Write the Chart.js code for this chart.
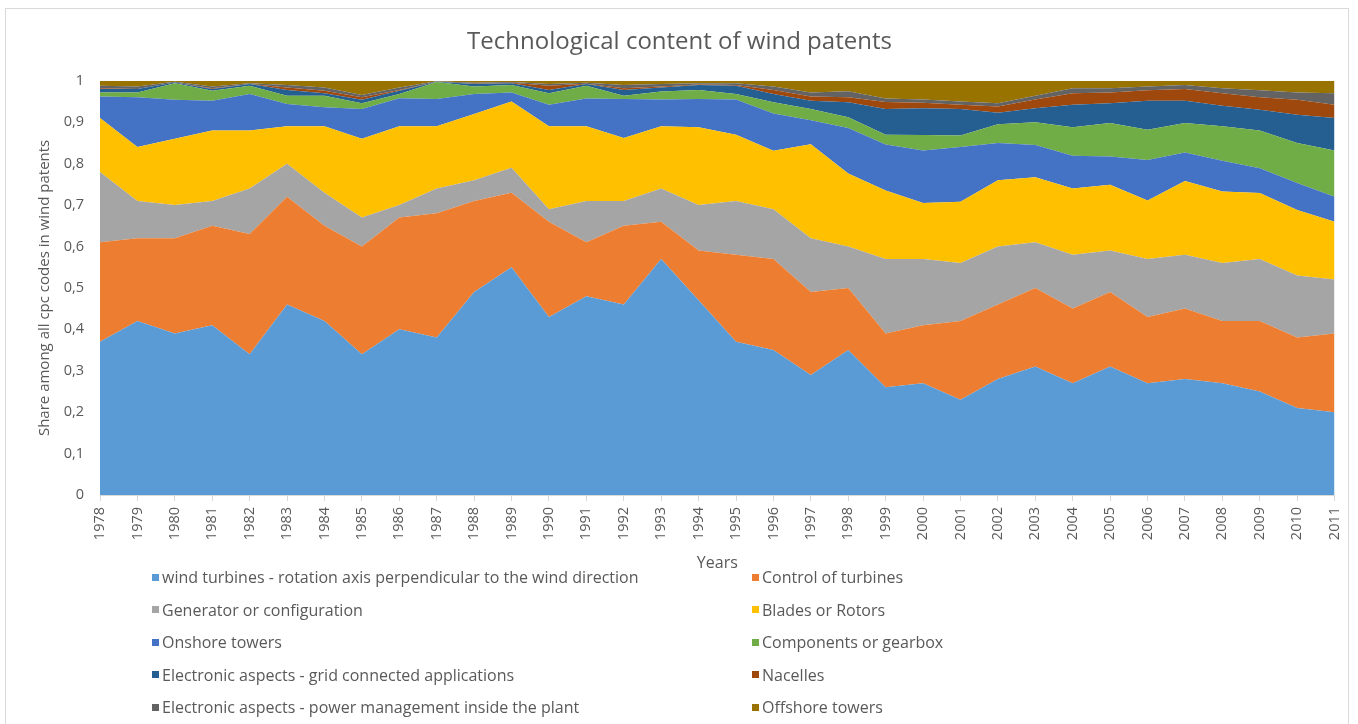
<!DOCTYPE html>
<html>
<head>
<meta charset="utf-8">
<title>Technological content of wind patents</title>
<script src="https://cdn.jsdelivr.net/npm/chart.js@4.4.1/dist/chart.umd.min.js"></script>
<style>
    body { margin: 0; background: #fff; font-family: "Open Sans", sans-serif; }
    #wrap { position: relative; width: 1358px; height: 724px; overflow: hidden; }
    #frame { position: absolute; left: 5px; top: 8px; width: 1344px; height: 760px; border: 1px solid #d9d9d9; box-sizing: border-box; }
    #legend { position: absolute; left: 152px; top: 561px; display: grid; grid-template-columns: 600px 600px; grid-auto-rows: 32.5px; }
    .item { display: flex; align-items: center; font-size: 16px; color: #595959; white-space: nowrap; }
    .box { width: 7px; height: 7px; margin-right: 3px; }
</style>
</head>
<body>
<div id="wrap">
    <div id="frame"></div>
    <canvas id="chart"></canvas>
    <div id="legend"></div>
</div>
<script>
// years on the x axis
const years = ['1978','1979','1980','1981','1982','1983','1984','1985','1986','1987','1988','1989',
    '1990','1991','1992','1993','1994','1995','1996','1997','1998','1999','2000','2001','2002',
    '2003','2004','2005','2006','2007','2008','2009','2010','2011'];

// share of each technology per year
const windTurbines = [0.37,0.42,0.39,0.41,0.34,0.46,0.42,0.34,0.40,0.38,0.49,0.55,
    0.43,0.48,0.46,0.57,0.47,0.37,0.35,0.29,0.35,0.26,0.27,0.23,0.28,
    0.31,0.27,0.31,0.27,0.28,0.27,0.25,0.21,0.20];
const controlTurbines = [0.24,0.20,0.23,0.24,0.29,0.26,0.23,0.26,0.27,0.30,0.22,0.18,
    0.23,0.13,0.19,0.09,0.12,0.21,0.22,0.20,0.15,0.13,0.14,0.19,0.18,
    0.19,0.18,0.18,0.16,0.17,0.15,0.17,0.17,0.19];
const generator = [0.17,0.09,0.08,0.06,0.11,0.08,0.08,0.07,0.03,0.06,0.05,0.06,
    0.03,0.10,0.06,0.08,0.11,0.13,0.12,0.13,0.10,0.18,0.16,0.14,0.14,
    0.11,0.13,0.10,0.14,0.13,0.14,0.15,0.15,0.13];
const blades = [0.13,0.13,0.16,0.17,0.14,0.09,0.16,0.19,0.19,0.15,0.16,0.16,
    0.20,0.18,0.152,0.15,0.188,0.16,0.141,0.227,0.176,0.165,0.135,0.148,0.16,
    0.157,0.16,0.159,0.141,0.178,0.173,0.159,0.158,0.14];
const onshore = [0.052,0.12,0.094,0.072,0.088,0.054,0.046,0.072,0.068,0.066,0.048,0.022,
    0.052,0.067,0.094,0.065,0.068,0.085,0.09,0.058,0.11,0.111,0.127,0.132,0.09,
    0.078,0.079,0.068,0.098,0.069,0.074,0.06,0.065,0.06];
const components = [0.010,0.012,0.040,0.024,0.020,0.020,0.028,0.014,0.010,0.041,0.018,0.018,
    0.028,0.031,0.008,0.019,0.022,0.013,0.027,0.027,0.026,0.024,0.037,0.028,0.045,
    0.055,0.069,0.081,0.073,0.071,0.083,0.091,0.097,0.112];
const gridApps = [0.008,0.008,0.002,0.004,0.004,0.014,0.006,0.008,0.008,0.001,0.006,0.004,
    0.008,0.004,0.014,0.010,0.012,0.020,0.020,0.020,0.036,0.062,0.065,0.064,0.028,
    0.034,0.054,0.048,0.070,0.054,0.050,0.050,0.068,0.078];
const nacelles = [0.002,0,0,0.002,0,0.006,0.006,0.006,0.002,0,0.001,0.001,
    0.010,0.001,0.004,0.002,0.001,0.002,0.010,0.010,0.012,0.017,0.013,0.010,0.015,
    0.021,0.028,0.026,0.025,0.028,0.030,0.030,0.036,0.032];
const powerMgmt = [0.006,0.006,0.002,0.004,0.002,0.006,0.008,0.006,0.006,0.001,0.002,0.002,
    0.004,0.002,0.008,0.006,0.003,0.004,0.008,0.010,0.015,0.008,0.008,0.008,0.008,
    0.009,0.012,0.010,0.009,0.010,0.012,0.017,0.018,0.028];
const offshore = [0.012,0.014,0.002,0.014,0.006,0.010,0.016,0.034,0.016,0.001,0.005,0.003,
    0.008,0.005,0.010,0.008,0.006,0.006,0.014,0.028,0.025,0.043,0.045,0.050,0.054,
    0.036,0.018,0.018,0.014,0.010,0.018,0.023,0.028,0.030];

const seriesNames = [
    'wind turbines - rotation axis perpendicular to the wind direction',
    'Control of turbines',
    'Generator or configuration',
    'Blades or Rotors',
    'Onshore towers',
    'Components or gearbox',
    'Electronic aspects - grid connected applications',
    'Nacelles',
    'Electronic aspects - power management inside the plant',
    'Offshore towers'
];
const seriesData = [windTurbines, controlTurbines, generator, blades, onshore,
    components, gridApps, nacelles, powerMgmt, offshore];
const seriesColors = ['#5B9BD5','#ED7D31','#A5A5A5','#FFC000','#4472C4',
    '#70AD47','#255E91','#9E480E','#636363','#997300'];

const textColor = '#595959';

const datasets = seriesNames.map((name, i) => ({
    label: name,
    data: seriesData[i],
    backgroundColor: seriesColors[i],
    borderColor: seriesColors[i],
    borderWidth: 0,
    pointRadius: 0,
    tension: 0,
    fill: i === 0 ? 'origin' : '-1'
}));

const chart = new Chart(document.getElementById('chart'), {
    type: 'line',
    data: { labels: years, datasets: datasets },
    options: {
        responsive: true,
        maintainAspectRatio: false,
        animation: false,
        layout: { padding: { left: 20, right: 19, top: 0, bottom: 149 } },
        plugins: {
            legend: { display: false },
            tooltip: { enabled: false },
            title: {
                display: true,
                text: 'Technological content of wind patents',
                color: textColor,
                font: { family: 'Open Sans', size: 24, weight: 'normal', lineHeight: 1.2 },
                padding: { top: 28, bottom: 24 }
            }
        },
        scales: {
            x: {
                afterFit: (scale) => { scale.height = 80; },
                grid: { drawOnChartArea: false, drawTicks: true, tickLength: 6, color: '#d9d9d9' },
                border: { color: '#d9d9d9' },
                ticks: {
                    autoSkip: false, minRotation: 90, maxRotation: 90, padding: 6,
                    color: textColor, font: { family: 'Open Sans', size: 14.5 }
                },
                title: {
                    display: true, text: 'Years', color: textColor,
                    font: { family: 'Open Sans', size: 16 }, padding: { top: 0, bottom: 2 }
                }
            },
            y: {
                stacked: true,
                min: 0,
                max: 1,
                afterFit: (scale) => { scale.width = 80; },
                grid: { display: false, drawTicks: false },
                border: { display: false },
                ticks: {
                    stepSize: 0.1, padding: 16, color: textColor,
                    font: { family: 'Open Sans', size: 14.5 },
                    callback: (v) => (v === 0 || v === 1) ? String(v) : v.toFixed(1).replace('.', ',')
                },
                title: {
                    display: true, text: 'Share among all cpc codes in wind patents', color: textColor,
                    font: { family: 'Open Sans', size: 15 }, padding: { top: 16, bottom: 0 }
                }
            }
        }
    }
});

// legend in two columns under the chart, like the original
const legendBox = document.getElementById('legend');
chart.data.datasets.forEach((ds) => {
    const item = document.createElement('div');
    item.className = 'item';
    const box = document.createElement('span');
    box.className = 'box';
    box.style.background = ds.backgroundColor;
    item.appendChild(box);
    item.appendChild(document.createTextNode(ds.label));
    legendBox.appendChild(item);
});
</script>
</body>
</html>
